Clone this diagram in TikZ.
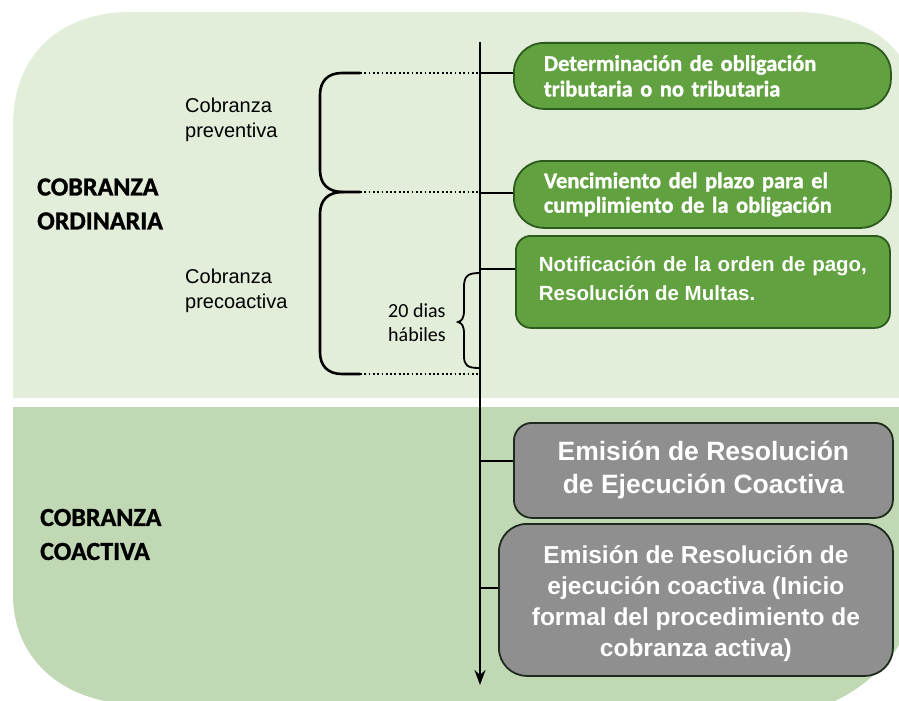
\documentclass[tikz,border=0pt]{standalone}
\usepackage{fontspec}
\setmainfont{Liberation Sans}
\newfontfamily\carl{Carlito}
\newfontfamily\carlheavy{Carlito}[FakeBold=1.2]
\usetikzlibrary{arrows.meta}
\definecolor{bgtop}{HTML}{E2EDDA}
\definecolor{bgbot}{HTML}{C0D9B4}
\definecolor{gfill}{HTML}{62A13F}
\definecolor{gdraw}{HTML}{2D5A1D}
\definecolor{grfill}{HTML}{8F8F8F}
\definecolor{grdraw}{HTML}{1E2A1E}
\tikzset{
  greenbox/.style={draw=gdraw, fill=gfill, line width=1.8pt, text=white, anchor=north west, align=left, inner ysep=0pt},
  graybox/.style={draw=grdraw, fill=grfill, line width=1.8pt, text=white, anchor=north west, align=center, inner ysep=0pt, inner xsep=0pt,
    font=\bfseries},
  sidelabel/.style={anchor=west, inner sep=0pt, align=left},
  biglabel/.style={anchor=west, inner sep=0pt, align=left, font=\carlheavy\bfseries\fontsize{26}{34}\selectfont},
  link/.style={line width=1.8pt},
  dotline/.style={line width=2.3pt, dash pattern=on 1.8pt off 2.5pt},
  bracket/.style={line width=2.6pt, line cap=round}
}
\begin{document}
\begin{tikzpicture}[x=1pt,y=-1pt]
\useasboundingbox (0,0) rectangle (899,701);
% panels
\fill[bgtop] (13,398) -- (13,125) .. controls (13,55) and (60,12) .. (130,12) -- (795,12)
  .. controls (840,12) and (880,28) .. (899,55) -- (899,398) -- cycle;
\fill[bgbot] (13,407) -- (899,407) -- (899,645) .. controls (885,668) and (862,688) .. (835,701)
  -- (105,701) .. controls (50,690) and (13,650) .. (13,595) -- cycle;

% timeline
\coordinate (ttop) at (480,42);
\coordinate (tbot) at (480,685);
\draw[line width=1.8pt, -{Stealth[length=15pt,width=11pt]}] (ttop) -- (tbot);

% boxes
\node[greenbox, minimum width=377pt, minimum height=66pt, rounded corners=30pt, inner xsep=30pt, text width=317pt,
  font=\carlheavy\bfseries\fontsize{22.5}{25.5}\selectfont] (b1) at (513,42)
  {Determinación de obligación\\tributaria o no tributaria};
\node[greenbox, minimum width=377pt, minimum height=67pt, rounded corners=30pt, inner xsep=30pt, text width=317pt,
  font=\carlheavy\bfseries\fontsize{22.5}{24.5}\selectfont] (b2) at (513,160)
  {Vencimiento del plazo para el\\cumplimiento de la obligación};
\node[greenbox, minimum width=374pt, minimum height=92pt, rounded corners=15pt, inner xsep=23pt, text width=328pt,
  align=justify, font=\bfseries\fontsize{20.5}{29}\selectfont] (b3) at (515,235)
  {Notificación de la orden de pago, Resolución de Multas.\par\vspace{6pt}};
\node[graybox, minimum width=379pt, minimum height=95pt, rounded corners=18pt,
  font=\bfseries\fontsize{26.5}{33}\selectfont] (b4) at (513,422)
  {Emisión de Resolución\\de Ejecución Coactiva};
\node[graybox, minimum width=394pt, minimum height=152pt, rounded corners=28pt,
  font=\bfseries\fontsize{24.5}{31}\selectfont] (b5) at (498,523)
  {Emisión de Resolución de\\ejecución coactiva (Inicio\\formal del procedimiento de\\cobranza activa)\par\vspace{-8pt}};

% connectors
\draw[link] ([yshift=3pt]b1.west -| ttop) -- ([yshift=3pt]b1.west);
\draw[link] ([yshift=1.5pt]b2.west -| ttop) -- ([yshift=1.5pt]b2.west);
\draw[link] ([yshift=13pt]b3.west -| ttop) -- ([yshift=13pt]b3.west);
\draw[link] ([yshift=9.5pt]b4.west -| ttop) -- ([yshift=9.5pt]b4.west);
\draw[link] ([yshift=12pt]b5.west -| ttop) -- ([yshift=12pt]b5.west);

% big bracket
\coordinate (d1) at (360,73);
\coordinate (d2) at (360,192);
\coordinate (d3) at (360,374);
\draw[bracket] (d1) -- (342,73) .. controls (328,73) and (320,81) .. (320,95) -- (320,170)
  .. controls (320,184) and (328,192) .. (343,192) -- (d2);
\draw[bracket] (343,192) .. controls (328,192) and (320,200) .. (320,214) -- (320,352)
  .. controls (320,366) and (328,374) .. (342,374) -- (d3);
\draw[dotline] (d1) -- (d1 -| ttop);
\draw[dotline] (d2) -- (d2 -| ttop);
\draw[dotline] (d3) -- (d3 -| ttop);

% small brace
\coordinate (s1) at (479,273);
\coordinate (s2) at (479,368);
\draw[line width=1.8pt] (s1) .. controls (467,273) and (464,277) .. (464,287) -- (464,310)
  .. controls (464,318) and (462,321) .. (458,322) .. controls (462,323) and (464,326) .. (464,334)
  -- (464,356) .. controls (464,365) and (467,368) .. (s2);

% labels
\node[sidelabel, font=\fontsize{20}{25}\selectfont] (lprev) at (185,119.5) {Cobranza\\preventiva};
\node[sidelabel, font=\fontsize{20}{25}\selectfont] (lprec) at (185,290.5) {Cobranza\\precoactiva};
\node[biglabel] (lord) at (37,204) {COBRANZA\\ORDINARIA};
\node[biglabel] (lcoa) at (40,534.5) {COBRANZA\\COACTIVA};
\node[sidelabel, font=\carl\fontsize{20}{24}\selectfont] (ldias) at (388,322.7) {20 dias\\hábiles};
\end{tikzpicture}
\end{document}
